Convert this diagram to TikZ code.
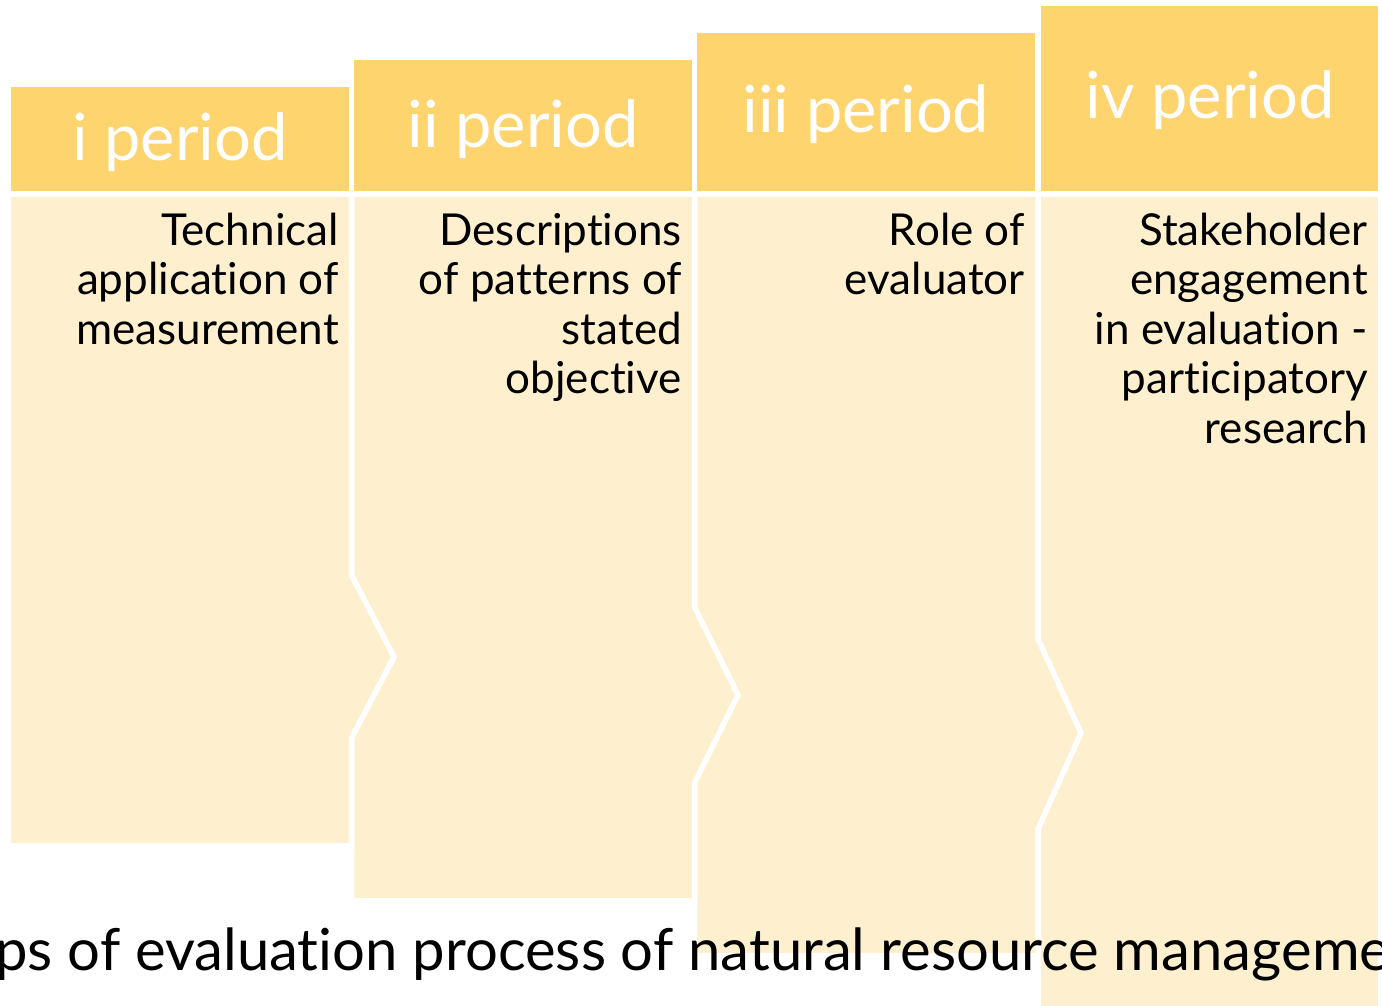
\documentclass[tikz,border=0pt]{standalone}
\usepackage{fontspec}
\setmainfont{Lato}[Ligatures={NoCommon}]
\definecolor{hdr}{HTML}{FDD46E}
\definecolor{bdy}{HTML}{FEF0CE}
\begin{document}
\begin{tikzpicture}[x=1pt,y=-1pt,
  hdrbox/.style={fill=hdr,draw=white,line width=5.5pt},
  bodybox/.style={fill=bdy,draw=white,line width=5.5pt,line join=miter},
  hdrtext/.style={text=white,font=\fontsize{65}{65}\selectfont,anchor=base,inner sep=0pt},
  bodytext/.style={align=right,anchor=base east,font=\fontsize{44}{49.5}\selectfont,inner sep=0pt,text=black},
]
\path[use as bounding box, clip] (0,0) rectangle (1382,1005);
\fill[white] (0,0) rectangle (1382,1005);
% bodies, right to left
\path[bodybox] (1038,194) -- (1380.75,194) -- (1380.75,1012) -- (1038,1012) -- cycle;
\path[bodybox] (694.5,194) -- (1038,194) -- (1038,639) -- (1081,733) -- (1038,829) -- (1038,955.75) -- (694.5,955.75) -- cycle;
\path[bodybox] (351.5,194) -- (694.5,194) -- (694.5,607) -- (738,695) -- (694.5,783) -- (694.5,900.75) -- (351.5,900.75) -- cycle;
\path[bodybox] (8.25,194) -- (351.5,194) -- (351.5,575) -- (394,657) -- (351.5,738) -- (351.5,845.75) -- (8.25,845.75) -- cycle;
% headers
\path[hdrbox] (8.25,84.25) rectangle (351.5,194);
\path[hdrbox] (351.5,57.25) rectangle (694.5,194);
\path[hdrbox] (694.5,30.25) rectangle (1038,194);
\path[hdrbox] (1038,3.25) rectangle (1380.75,194);
% header texts
\node[hdrtext] (h1) at (180,160) {i period};
\node[hdrtext] (h2) at (523,147) {ii period};
\node[hdrtext] (h3) at (866,132) {iii period};
\node[hdrtext] (h4) at (1210,118) {iv period};
% body texts (anchored at the baseline of the last line)
\node[bodytext] (b1) at (339,344) {Technical\\application of\\measurement};
\node[bodytext] (b2) at (682,393.5) {Descriptions\\of patterns of\\stated\\objective};
\node[bodytext] (b3) at (1025,294.5) {Role of\\evaluator};
\node[bodytext] (b4) at (1368,443) {Stakeholder\\engagement\\in evaluation -\\participatory\\research};
% caption
\node[anchor=base west,font=\fontsize{58}{60}\selectfont,inner sep=0pt] (cap) at (688,970) {\llap{Steps of evaluation process of }natural resource management};
\end{tikzpicture}
\end{document}
